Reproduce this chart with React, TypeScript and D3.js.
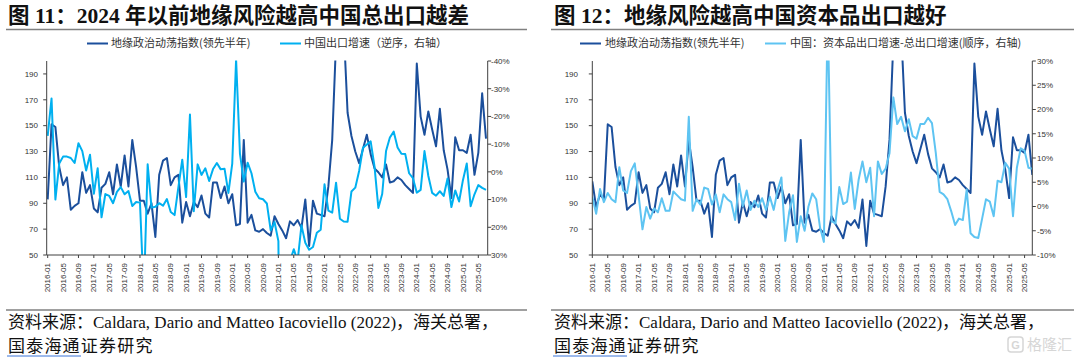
import React from "react";
import * as d3 from "d3";

// ---------- data ----------
const xTickLabels = [
  "2016-01", "2016-05", "2016-09", "2017-01", "2017-05", "2017-09",
  "2018-01", "2018-05", "2018-09", "2019-01", "2019-05", "2019-09",
  "2020-01", "2020-05", "2020-09", "2021-01", "2021-05", "2021-09",
  "2022-01", "2022-05", "2022-09", "2023-01", "2023-05", "2023-09",
  "2024-01", "2024-05", "2024-09", "2025-01", "2025-05",
];
const monthCount = 115; // 2016-01 .. 2025-07

// Geopolitical risk index (leading half year)
const gprLead = [
  107, 87, 97, 93, 151, 149, 118, 104, 110, 85, 88, 90,
  114, 98, 104, 86, 83, 102, 105, 114, 97, 120, 103, 127,
  103, 139, 118, 92, 92, 82, 90, 64, 112, 123, 125, 104,
  110, 112, 75, 91, 80, 91, 87, 96, 82, 79, 106, 106,
  94, 103, 90, 97, 73, 74, 139, 75, 81, 69, 68, 70,
  67, 65, 80, 74, 69, 63, 76, 73, 77, 71, 93, 57,
  92, 82, 81, 80, 103, 139, 215, 240, 225, 160, 142, 130,
  121, 132, 143, 128, 117, 114, 110, 120, 106, 107, 110, 108,
  104, 101, 98, 198, 157, 143, 161, 147, 134, 163, 131, 116,
  94, 141, 131, 131, 129, 143, 112, 129, 175, 140,
];
const fig11Shift = 3;

// China export growth yoy (%), reversed right axis in fig 11
const exportYoY = [
  -13, -26.5, 10, -3, -5.5, -5.5, -5, -3.2, -10.3, -7.5, -0.5, -6.2,
  7.9, -1.3, 16.4, 8.0, 8.7, 11.3, 7.2, 5.5, 8.1, 6.9, 12.3, 10.9,
  11.1, 44.5, -2.7, 12.9, 12.6, 11.3, 12.2, 9.8, 14.5, 15.6, 5.4, -4.4,
  9.1, -20.7, 14.2, -2.7, 1.1, -1.3, 3.3, -1.0, -3.2, -0.9, -1.1, 7.6,
  -3.0, -40.6, -6.6, 3.5, -3.3, 0.5, 7.2, 9.5, 9.9, 11.4, 21.1, 18.1,
  25.0, 154.9, 30.6, 32.3, 27.9, 32.2, 19.3, 25.6, 28.1, 27.1, 22.0, 20.9,
  4.5, 14.0, 14.7, 3.9, 16.9, 17.9, 18.0, 7.1, 5.7, -0.3, -8.7, -9.9,
  -11.0, -2.0, 13.0, 8.0, -7.5, -12.4, -14.5, -8.8, -6.5, -6.4, 0.5, 2.3,
  7.5, 6.5, -7.5, 1.5, 7.6, 8.6, 7.0, 8.7, 2.4, 12.7, 6.7, 10.7,
  3.0, -3.0, 12.4, 8.1, 4.8, 5.8, 6.5,
];

// China: capital goods export growth minus total export growth (%)
const capMinusTotal = [
  2.0, -1.5, 3.6, 0.9, 2.8, 1.5, 0.9, 8.1, 3.3, 2.8, 7.3, 8.9,
  2.3, -4.7, -0.1, -2.5, -0.4, -1.2, 1.7, -0.9, -0.9, 3.1, 2.3, 1.5,
  1.2, 18.5, -0.9, 1.5, 0.4, 3.9, 3.6, 0.4, 2.5, -1.2, 2.5, 1.5,
  0.9, -2.8, 4.7, 0.1, 3.3, -0.7, 1.2, -0.1, 1.7, -0.7, 2.0, -0.7,
  3.3, 6.0, -7.1, -1.2, 2.3, -7.3, -2.0, -5.0, 0.0, 2.7, 1.5, -4.3,
  -7.3, 40, -3.0, -3.5, 4.0, 0.5, 1.0, 7.0, -0.5, 5.5, 9.3, 5.0,
  8.0, -2.0, 9.3, 6.7, 7.8, 11.0, 22.5, 17.0, 18.5, 15.5, 18.0, 14.5,
  14.0, 17.0, 17.0, 18.3, 17.2, 11.0, 3.0, 2.5, 1.5, -1.0, -3.8, -2.5,
  -2.8, 3.5, -5.5, -6.3, -6.5, -2.5, 1.5, 1.0, -2.0, 5.3, 5.0, 9.0,
  7.8, -2.0, 8.0, 12.0, 11.5, 8.0, 7.8,
];

const leftTicks = [50, 70, 90, 110, 130, 150, 170, 190];
const fig11RightTicks = [-40, -30, -20, -10, 0, 10, 20, 30];
const fig12RightTicks = [-10, -5, 0, 5, 10, 15, 20, 25, 30];

const darkName = "地缘政治动荡指数(领先半年)";
const fig11LightName = "中国出口增速（逆序，右轴）";
const fig12LightName = "中国：资本品出口增速-总出口增速(顺序，右轴)";
const fig11Title = "图 11：2024 年以前地缘风险越高中国总出口越差";
const fig12Title = "图 12：地缘风险越高中国资本品出口越好";
const sourceLine1 = "资料来源：Caldara, Dario and Matteo Iacoviello (2022)，海关总署，";
const sourceLine2a = "国泰海通";
const sourceLine2b = "证券研究";

// ---------- styles ----------
const DARK = "#1B4F9C";
const AXIS = "#404040";
const TICKFONT = "'Liberation Sans', Arial, sans-serif";
const CJK = "'Noto Sans CJK SC', sans-serif";
const SERIF = "'Liberation Serif', 'Noto Sans CJK SC', serif";

type PanelCfg = {
  id: string;
  px0: number; px1: number;
  xFirst: number; xLast: number;
  top: number; bottom: number;
  dark: number[];
  light: number[];
  lightColor: string;
  rightDomain: [number, number];
  rightReversed: boolean;
  rightTicks: number[];
  leftLabelX: number; rightLabelX: number;
  title: string; titleX: number;
  legend: { lineX: number; textX: number; name: string; color: string }[];
  ruleX0: number; ruleX1: number; srcX: number;
};

const fig11: PanelCfg = {
  id: "f11",
  px0: 46.7, px1: 487.7, xFirst: 47.7, xLast: 486.0, top: 61, bottom: 255,
  dark: gprLead.slice(fig11Shift, fig11Shift + monthCount),
  light: exportYoY,
  lightColor: "#00B0F0",
  rightDomain: [-40, 30], rightReversed: true, rightTicks: fig11RightTicks,
  leftLabelX: 38, rightLabelX: 491,
  title: fig11Title, titleX: 8,
  legend: [
    { lineX: 87, textX: 111, name: darkName, color: DARK },
    { lineX: 280, textX: 304, name: fig11LightName, color: "#00B0F0" },
  ],
  ruleX0: 6, ruleX1: 527, srcX: 8,
};

const fig12: PanelCfg = {
  id: "f12",
  px0: 592.3, px1: 1032.3, xFirst: 592.3, xLast: 1032.3, top: 61, bottom: 255,
  dark: gprLead.slice(0, monthCount),
  light: capMinusTotal,
  lightColor: "#5EC4F2",
  rightDomain: [-10, 30], rightReversed: false, rightTicks: fig12RightTicks,
  leftLabelX: 578, rightLabelX: 1037,
  title: fig12Title, titleX: 554,
  legend: [
    { lineX: 580, textX: 605, name: darkName, color: DARK },
    { lineX: 765, textX: 790, name: fig12LightName, color: "#5EC4F2" },
  ],
  ruleX0: 551, ruleX1: 1074, srcX: 554,
};

function Panel({ c }: { c: PanelCfg }) {
  const x = d3.scaleLinear().domain([0, monthCount - 1]).range([c.xFirst, c.xLast]);
  const yL = d3.scaleLinear().domain([50, 200]).range([c.bottom, c.top]);
  const yR = d3.scaleLinear().domain(c.rightDomain)
    .range(c.rightReversed ? [c.top, c.bottom] : [c.bottom, c.top]);

  const darkLine = d3.line<number>().x((_, i) => x(i)).y((d) => yL(d));
  const lightLine = d3.line<number>().x((_, i) => x(i)).y((d) => yR(d));

  const clipId = `clip-${c.id}`;
  return (
    <g>
      {/* title */}
      <text x={c.titleX} y={23} fontFamily={SERIF} fontWeight="bold" fontSize={21.5} fill="#111">
        {c.title}
      </text>
      <line x1={c.ruleX0} x2={c.ruleX1} y1={29.5} y2={29.5} stroke="#808080" strokeWidth={1.3} />

      {/* legend */}
      {c.legend.map((l) => (
        <g key={l.name}>
          <line x1={l.lineX} x2={l.lineX + 21} y1={43.5} y2={43.5} stroke={l.color} strokeWidth={2} />
          <text x={l.textX} y={47.3} fontFamily={CJK} fontSize={11} fill="#333">{l.name}</text>
        </g>
      ))}

      <defs>
        <clipPath id={clipId}>
          <rect x={c.px0} y={c.top - 0.5} width={c.px1 - c.px0} height={c.bottom - c.top + 0.5} />
        </clipPath>
      </defs>

      <g clipPath={`url(#${clipId})`} fill="none" strokeLinejoin="round">
        <path d={darkLine(c.dark) || ""} stroke={DARK} strokeWidth={2} />
        <path d={lightLine(c.light) || ""} stroke={c.lightColor} strokeWidth={2} />
      </g>

      {/* axes */}
      <line x1={c.px0} x2={c.px0} y1={c.top} y2={c.bottom} stroke={AXIS} strokeWidth={1} />
      <line x1={c.px1} x2={c.px1} y1={c.top} y2={c.bottom} stroke={AXIS} strokeWidth={1} />
      <line x1={c.px0} x2={c.px1} y1={c.bottom} y2={c.bottom} stroke={AXIS} strokeWidth={1} />

      {leftTicks.map((t) => (
        <g key={"l" + t}>
          <line x1={c.px0 - 3.5} x2={c.px0} y1={yL(t)} y2={yL(t)} stroke={AXIS} />
          <text x={c.leftLabelX} y={yL(t)} dy="0.35em" textAnchor="end" fontFamily={TICKFONT} fontSize={8} fill="#333">{t}</text>
        </g>
      ))}
      {c.rightTicks.map((t) => (
        <g key={"r" + t}>
          <line x1={c.px1} x2={c.px1 + 3.5} y1={yR(t)} y2={yR(t)} stroke={AXIS} />
          <text x={c.rightLabelX} y={yR(t)} dy="0.35em" fontFamily={TICKFONT} fontSize={8} fill="#333">{`${t}%`}</text>
        </g>
      ))}
      {xTickLabels.map((lab, i) => {
        const xx = x(i * 4);
        return (
          <g key={lab}>
            <line x1={xx} x2={xx} y1={c.bottom} y2={c.bottom + 3} stroke={AXIS} />
            <text transform={`translate(${xx},${c.bottom + 8}) rotate(-90)`} dy="0.33em" textAnchor="end"
              fontFamily={TICKFONT} fontSize={8} fill="#333">{lab}</text>
          </g>
        );
      })}

      {/* source */}
      <line x1={c.ruleX0} x2={c.ruleX1} y1={310} y2={310} stroke="#808080" strokeWidth={1.3} />
      <text x={c.srcX} y={328} fontFamily={SERIF} fontSize={17} fill="#111">{sourceLine1}</text>
      <text x={c.srcX} y={352} fontFamily={SERIF} fontSize={17} fill="#111" letterSpacing={1.2}>
        <tspan>{sourceLine2a}</tspan><tspan>{sourceLine2b}</tspan>
      </text>
      <line x1={c.srcX - 1} x2={c.srcX + 73} y1={356} y2={356} stroke="#3A74D8" strokeWidth={1} />
    </g>
  );
}

export default function App() {
  return (
    <svg width={1080} height={357} viewBox="0 0 1080 357"
      style={{ position: "absolute", left: 0, top: 0, background: "#fff" }}>
      <rect x={0} y={0} width={1080} height={357} fill="#fff" />
      <Panel c={fig11} />
      <Panel c={fig12} />
      {/* watermark */}
      <g opacity={0.55}>
        <rect x={1008} y={337} width={15} height={15} rx={3} fill="none" stroke="#b5b5b5" strokeWidth={1.5} />
        <text x={1015.5} y={349} textAnchor="middle" fontFamily={TICKFONT} fontWeight="bold" fontSize={11} fill="#b5b5b5">G</text>
        <text x={1027} y={350} fontFamily={CJK} fontSize={15} fill="#b5b5b5">格隆汇</text>
      </g>
    </svg>
  );
}
